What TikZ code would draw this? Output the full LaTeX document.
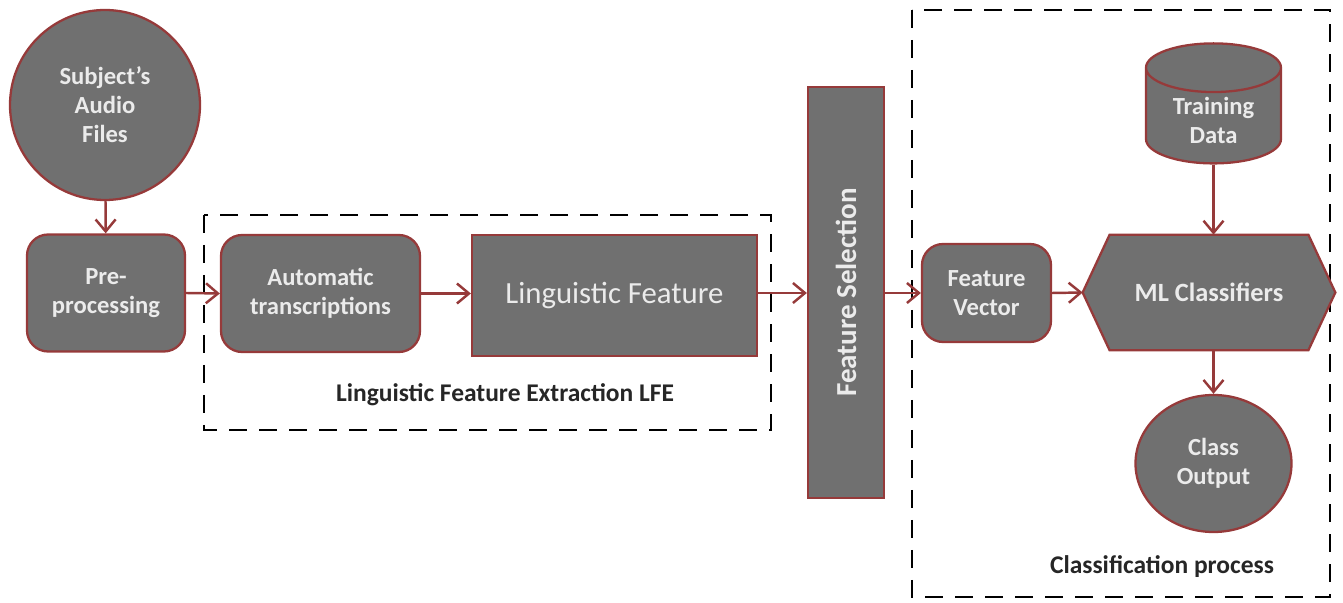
\documentclass[tikz,border=0pt]{standalone}
\usepackage{fontspec}
\setmainfont{Carlito}
\usetikzlibrary{arrows.meta,shapes.geometric,positioning}

\definecolor{boxgray}{RGB}{112,112,112}
\definecolor{boxred}{RGB}{150,58,58}
\definecolor{boxtext}{RGB}{235,235,235}

\tikzset{
  block/.style={draw=boxred, line width=1.3pt, fill=boxgray, text=boxtext,
    font=\fontsize{14}{16.5}\selectfont\bfseries, align=center, inner sep=2pt},
  roundblock/.style={block, rounded corners=12pt},
  flow/.style={draw=boxred, line width=1.4pt, -{Straight Barb[length=2.4mm,width=4mm]}},
  group/.style={draw=black, line width=1.6pt, dash pattern=on 3.6mm off 2.4mm},
  grouplabel/.style={font=\fontsize{14.5}{17}\selectfont\bfseries, text=black!85}
}

\begin{document}
\begin{tikzpicture}
  \useasboundingbox (0,0) rectangle (26.86,12.06);

  % dashed groups
  \draw [group] (4.08,7.76) rectangle (15.42,3.46);
  \draw [group] (18.24,11.86) rectangle (26.60,0.12);
  \node [grouplabel] (lfelabel) at (10.10,4.16) {Linguistic Feature Extraction LFE};
  \node [grouplabel] (cplabel) at (23.24,0.72) {Classification process};

  % blocks
  \node [block, circle, minimum size=3.8cm] (audio) at (2.10,9.96) {Subject's\\Audio\\Files};
  \node [roundblock, minimum width=3.16cm, minimum height=2.34cm] (pre) at (2.12,6.20) {Pre-\\processing};
  \node [roundblock, minimum width=3.98cm, minimum height=2.34cm] (auto) at (6.41,6.19) {Automatic\\transcriptions};
  \node [block, minimum width=5.70cm, minimum height=2.42cm,
         font=\fontsize{17.5}{20}\selectfont] (ling) at (12.29,6.15) {Linguistic Feature};
  \node [block, minimum width=1.52cm, minimum height=8.22cm,
         font=\fontsize{16.5}{19}\selectfont\bfseries] (fsel) at (16.92,6.21) {\rotatebox{90}{Feature Selection}};
  \node [roundblock, minimum width=2.58cm, minimum height=1.96cm] (fvec) at (19.73,6.20) {Feature\\Vector};

  % hexagon for the classifiers
  \node [minimum width=5.04cm, minimum height=2.30cm, inner sep=0pt] (ml) at (24.18,6.21) {};
  \draw [draw=boxred, line width=1.3pt, fill=boxgray]
    (ml.west) -- ([xshift=0.54cm]ml.north west) -- ([xshift=-0.54cm]ml.north east)
    -- (ml.east) -- ([xshift=-0.54cm]ml.south east) -- ([xshift=0.54cm]ml.south west) -- cycle;
  \node [text=boxtext, font=\fontsize{15}{18}\selectfont\bfseries] (mltext) at (ml.center) {ML Classifiers};

  \node [block, cylinder, shape border rotate=90, shape aspect=0.55,
         minimum width=2.70cm, minimum height=2.40cm] (tdata) at (24.27,9.66) {Training\\Data};
  \node [block, ellipse, minimum width=3.12cm, minimum height=2.74cm] (cout) at (24.27,2.79) {Class\\Output};

  % connectors
  \draw [flow] (audio) -- (pre);
  \draw [flow] (pre.east) -- (auto.west);
  \draw [flow] (auto.east) -- (auto.east -| ling.west);
  \draw [flow] (ling.east |- pre.east) -- (ling.east |- pre.east -| fsel.west);
  \draw [flow] (fsel.east |- pre.east) -- (fvec.west);
  \draw [flow] (fvec.east) -- (ml.west);
  \draw [flow] (tdata.bottom) -- (tdata.bottom |- ml.north);
  \draw [flow] (ml.south -| cout.north) -- (cout.north);
\end{tikzpicture}
\end{document}
